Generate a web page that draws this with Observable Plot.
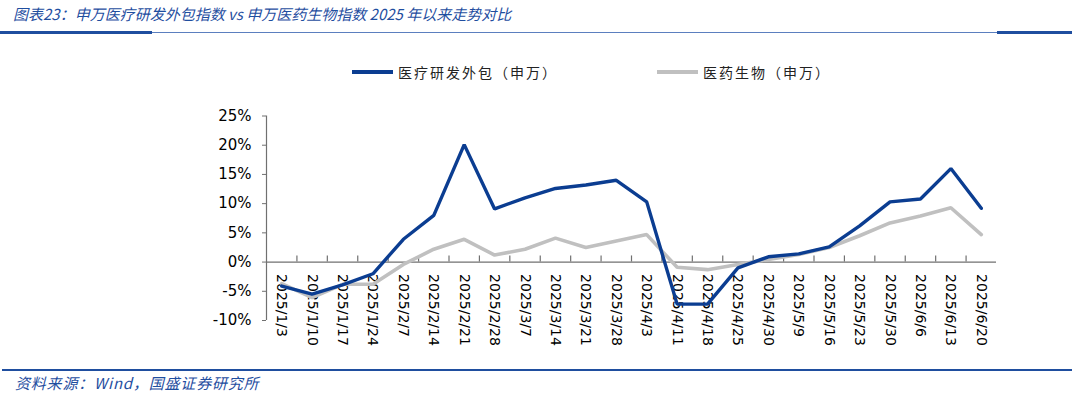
<!DOCTYPE html>
<html><head><meta charset="utf-8">
<script src="https://cdn.jsdelivr.net/npm/d3@7"></script>
<script src="https://cdn.jsdelivr.net/npm/@observablehq/plot@0.6"></script>
<style>
body{margin:0;background:#fff;}
#wrap{position:relative;width:1080px;height:394px;overflow:hidden;font-family:"Noto Sans CJK SC","DejaVu Sans",sans-serif;background:#fff;}
#title{position:absolute;left:13px;top:3px;font-size:15px;font-style:italic;color:#1f4e9f;white-space:nowrap;}
#tl1{position:absolute;left:0;top:31px;width:152px;height:2.5px;background:#1f4e9f;}
#tl2{position:absolute;left:152px;top:32px;width:845px;height:1px;background:#5b7fbf;}
#tl3{position:absolute;left:997px;top:31px;width:75px;height:2.5px;background:#1f4e9f;}
#legend{position:absolute;left:0;top:60px;width:1080px;height:24px;font-size:14px;color:#222;}
.li{position:absolute;top:0;display:flex;align-items:center;height:24px;letter-spacing:2px;white-space:nowrap;}
.sw{display:inline-block;width:41px;height:3.5px;margin-right:5px;}
#chart{position:absolute;left:0;top:95px;}
#fl{position:absolute;left:2px;top:368.5px;width:1070px;height:2px;background:#1f4e9f;}
#source{position:absolute;left:15px;top:372px;font-size:15px;font-style:italic;color:#1f4e9f;white-space:nowrap;letter-spacing:0.8px;}
</style></head><body>
<div id="wrap">
  <div id="title">图表23：申万医疗研发外包指数 vs 申万医药生物指数 2025 年以来走势对比</div>
  <div id="tl1"></div><div id="tl2"></div><div id="tl3"></div>
  <div id="legend"></div>
  <div id="chart"></div>
  <div id="fl"></div>
  <div id="source">资料来源：Wind，国盛证券研究所</div>
</div>
<script>
const categories = ["2025/1/3","2025/1/10","2025/1/17","2025/1/24","2025/2/7","2025/2/14","2025/2/21","2025/2/28","2025/3/7","2025/3/14","2025/3/21","2025/3/28","2025/4/3","2025/4/11","2025/4/18","2025/4/25","2025/4/30","2025/5/9","2025/5/16","2025/5/23","2025/5/30","2025/6/6","2025/6/13","2025/6/20"];
const croValues = [-4.1,-5.5,-3.9,-2.0,3.9,8.0,20.1,9.1,11.0,12.6,13.2,14.0,10.3,-7.2,-7.2,-1.0,0.9,1.4,2.6,6.2,10.3,10.8,16.0,9.2];
const pharmaValues = [-3.7,-6.1,-3.8,-3.8,-0.4,2.2,3.9,1.2,2.2,4.1,2.5,3.6,4.7,-0.9,-1.3,-0.4,0.45,1.3,2.5,4.5,6.7,7.9,9.3,4.7];
const yTicks = [-10,-5,0,5,10,15,20,25];
const seriesNames = ["医疗研发外包（申万）","医药生物（申万）"];
const seriesColors = ["#0b3d91","#c0c0c0"];

// legend
const legend = document.getElementById("legend");
const legendX = [352, 657];
seriesNames.forEach((n, k) => {
  const d = document.createElement("div");
  d.className = "li";
  d.style.left = legendX[k] + "px";
  d.innerHTML = `<span class="sw" style="background:${seriesColors[k]}"></span><span>${n}</span>`;
  legend.appendChild(d);
});

const rows = categories.map((c, i) => ({i, c, cro: croValues[i], pharma: pharmaValues[i]}));
const boundaries = d3.range(0.5, categories.length - 1, 1);

const plot = Plot.plot({
  width: 1080, height: 265,
  marginTop: 20.5, marginBottom: 40, marginLeft: 266, marginRight: 84,
  x: {domain: [-0.5, categories.length - 0.5], axis: null},
  y: {domain: [-10, 25], axis: null},
  style: {fontFamily: "'DejaVu Sans', Verdana, sans-serif", fontSize: "14px", color: "#000", background: "transparent", overflow: "visible"},
  marks: [
    Plot.ruleX([-0.5], {y1: -10, y2: 25, stroke: "#707070", strokeWidth: 1.2}),
    Plot.axisY({ticks: yTicks, tickSize: 4, tickPadding: 11, tickFormat: d => d + "%", label: null, stroke: "#707070", fill: "#000", fontSize: 15}),
    Plot.ruleY([0], {stroke: "#707070", strokeWidth: 1.3}),
    Plot.ruleX(boundaries, {x: d => d, y1: 0, y2: 1.05, stroke: "#707070", strokeWidth: 1.2}),
    Plot.text(rows, {x: "i", y: () => 0, text: "c", rotate: 90, textAnchor: "start", dy: 12, fill: "#000", fontSize: 14}),
    Plot.line(rows, {x: "i", y: "pharma", stroke: seriesColors[1], strokeWidth: 3.6, strokeLinejoin: "miter"}),
    Plot.line(rows, {x: "i", y: "cro", stroke: seriesColors[0], strokeWidth: 3.4, strokeLinejoin: "miter"})
  ]
});
document.getElementById("chart").appendChild(plot);
</script>
</body></html>
